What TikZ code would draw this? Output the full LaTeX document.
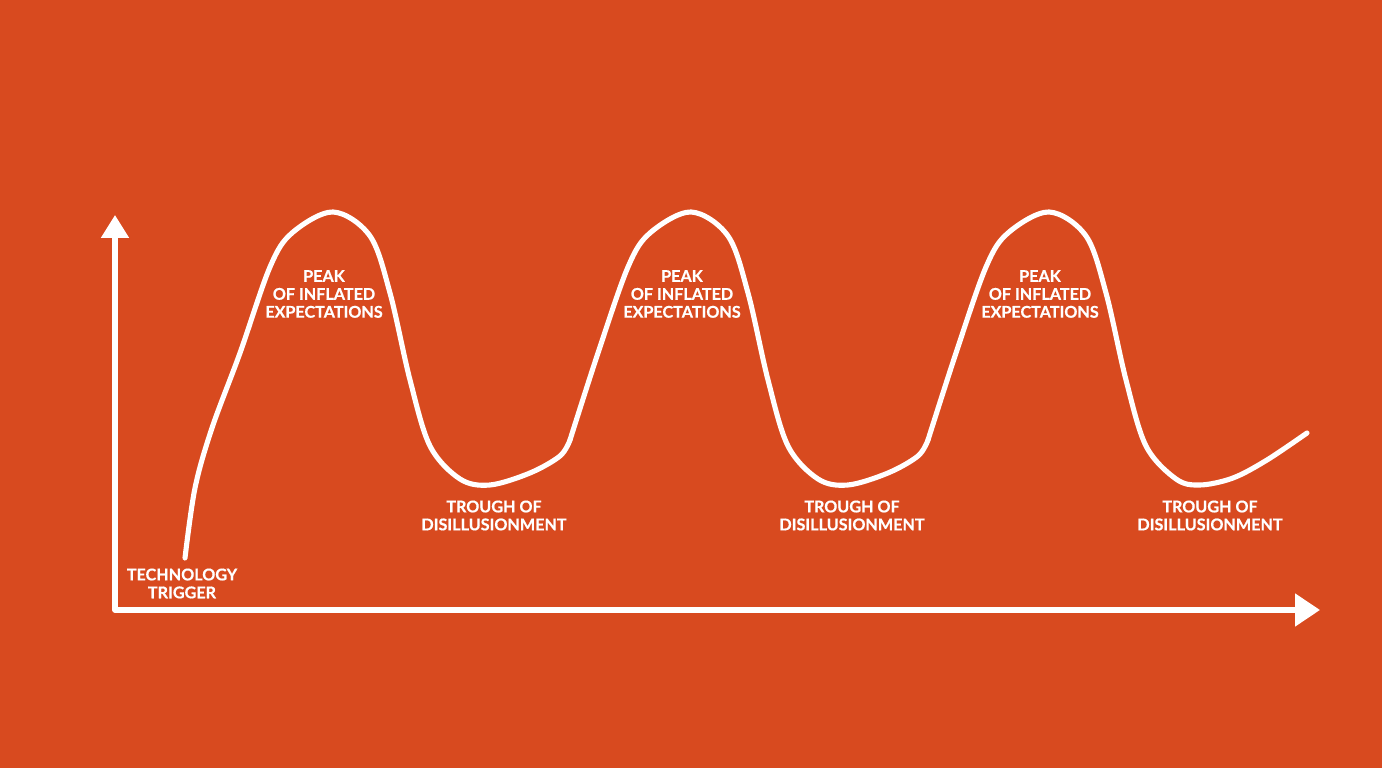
\documentclass[tikz,border=0pt]{standalone}
\usepackage{fontspec}
\setmainfont{Lato}[BoldFeatures={FakeBold=0.6}]
\usetikzlibrary{arrows.meta}
\definecolor{hypeOrange}{RGB}{216,74,31}
\begin{document}
\begin{tikzpicture}[
        hypeLabel/.style={align=center, text=white, font=\bfseries\fontsize{4.6}{5.1}\selectfont, inner sep=0pt},
        chalkLine/.style={draw=white, line width=1.45pt, line cap=round, line join=round},
        axisLine/.style={chalkLine, {Triangle[length=0.23cm, width=0.27cm]}-{Triangle[length=0.25cm, width=0.32cm]}}
    ]
        \fill[hypeOrange] (0, 0) rectangle (13.82, 7.68);

        \coordinate (origin) at (1.15, 1.58);
        \coordinate (yTip) at (1.15, 5.53);
        \coordinate (xTip) at (13.20, 1.58);

        \node[hypeLabel] (trigger) at (1.82, 1.845) {TECHNOLOGY\\TRIGGER};
        \node[hypeLabel] (peakA) at (3.24, 4.74) {PEAK\\OF INFLATED\\EXPECTATIONS};
        \node[hypeLabel] (peakB) at (6.82, 4.74) {PEAK\\OF INFLATED\\EXPECTATIONS};
        \node[hypeLabel] (peakC) at (10.40, 4.74) {PEAK\\OF INFLATED\\EXPECTATIONS};
        \node[hypeLabel] (troughA) at (4.94, 2.525) {TROUGH OF\\DISILLUSIONMENT};
        \node[hypeLabel] (troughB) at (8.52, 2.525) {TROUGH OF\\DISILLUSIONMENT};
        \node[hypeLabel] (troughC) at (12.10, 2.525) {TROUGH OF\\DISILLUSIONMENT};

        \draw[axisLine] (yTip) -- (origin) -- (xTip);

        % first hype cycle
        \draw[chalkLine] plot[smooth, tension=0.55] coordinates {(1.85,2.10) (1.95,2.80) (2.12,3.40) (2.40,4.15) (2.70,5.01) (2.92,5.35) (3.33,5.56) (3.70,5.32) (3.90,4.75) (4.10,3.88) (4.30,3.22) (4.60,2.89) (4.90,2.83) (5.30,2.95) (5.60,3.12) (5.70,3.28)};
        % second hype cycle
        \begin{scope}[xshift=3.58cm]
            \draw[chalkLine] plot[smooth, tension=0.55] coordinates {(2.12,3.28) (2.40,4.15) (2.70,5.01) (2.92,5.35) (3.33,5.56) (3.70,5.32) (3.90,4.75) (4.10,3.88) (4.30,3.22) (4.60,2.89) (4.90,2.83) (5.30,2.95) (5.60,3.12) (5.70,3.28)};
        \end{scope}
        % third hype cycle
        \begin{scope}[xshift=7.16cm]
            \draw[chalkLine] plot[smooth, tension=0.55] coordinates {(2.12,3.28) (2.40,4.15) (2.70,5.01) (2.92,5.35) (3.33,5.56) (3.70,5.32) (3.90,4.75) (4.10,3.88) (4.30,3.22) (4.60,2.89) (4.84,2.83) (5.17,2.90) (5.51,3.08) (5.91,3.35)};
        \end{scope}
    \end{tikzpicture}
\end{document}
